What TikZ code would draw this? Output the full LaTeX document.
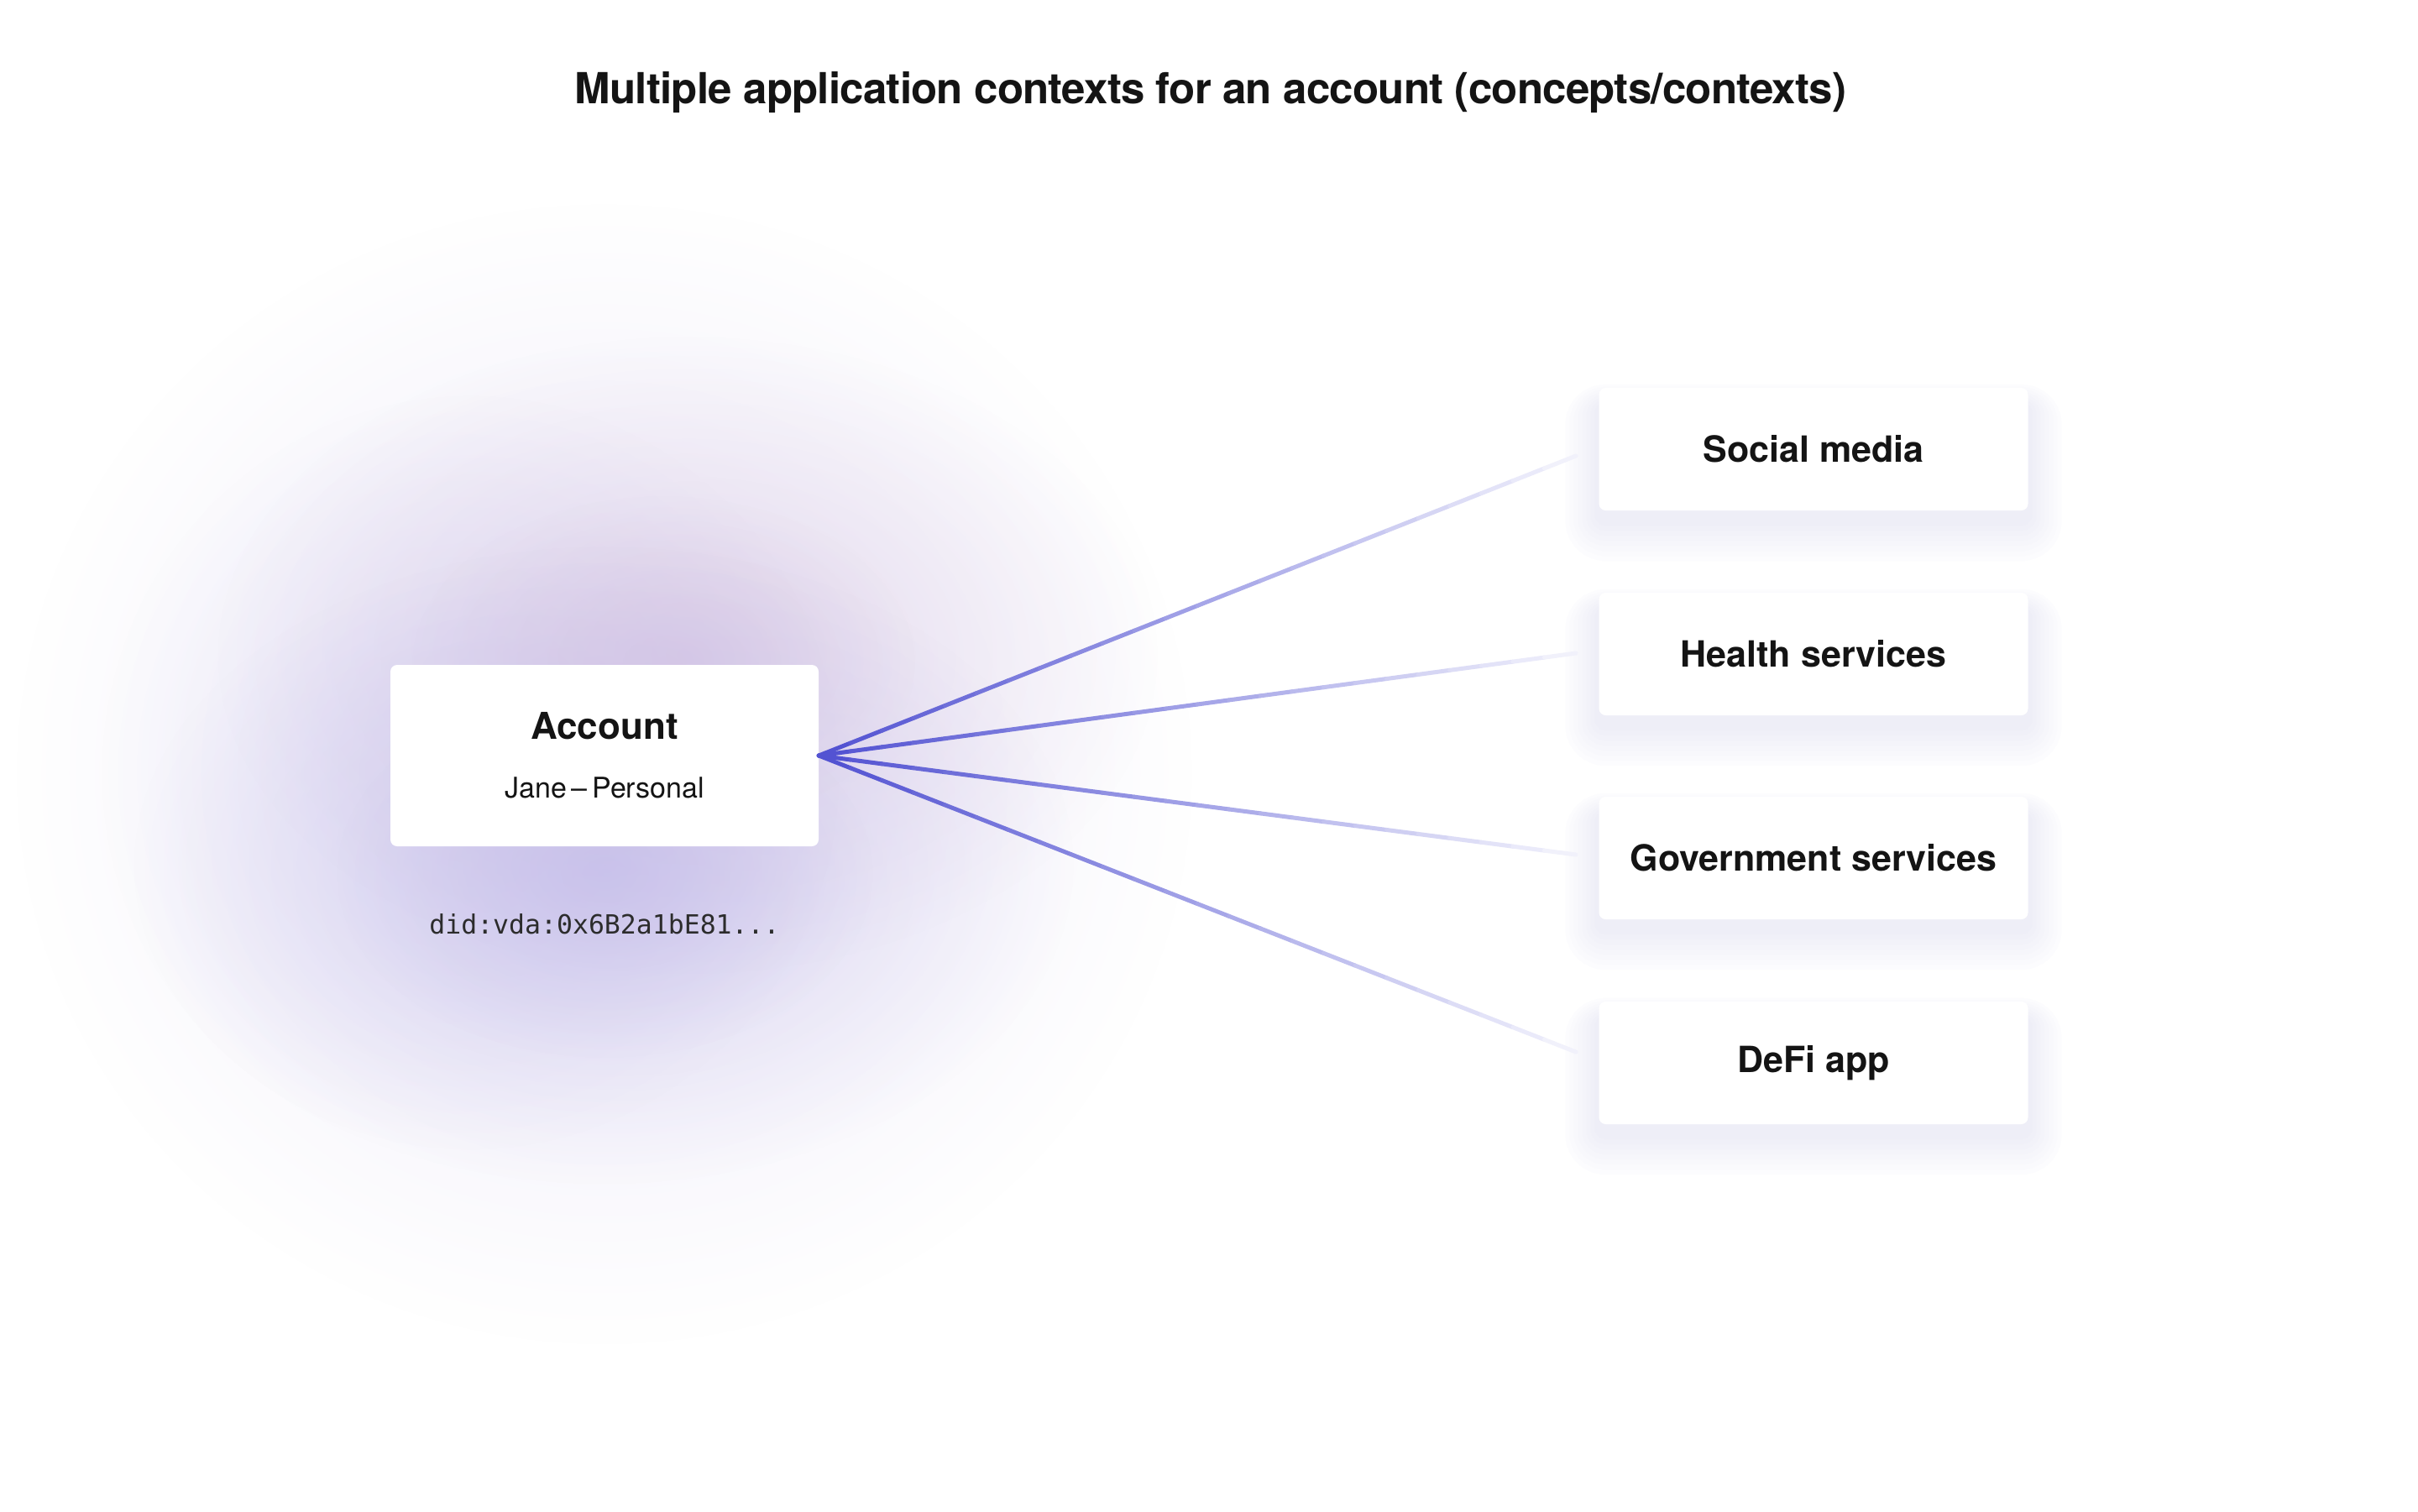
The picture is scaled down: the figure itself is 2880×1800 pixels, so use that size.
\documentclass[tikz,border=0pt]{standalone}
\usepackage{fontspec}
\setmainfont{TeX Gyre Heros}
\setmonofont{DejaVu Sans Mono}
\newfontfamily\titlefont[LetterSpace=-1.5]{TeX Gyre Heros}
\usetikzlibrary{calc,backgrounds,fadings}

\definecolor{ink}{HTML}{141414}
\definecolor{linkc}{HTML}{5353D2}
\definecolor{glowlav}{HTML}{E2DDF4}
\definecolor{glowpink}{HTML}{D2BFE0}
\definecolor{glowblue}{HTML}{BFB7E8}
\definecolor{glowside}{HTML}{D0CCF0}
\definecolor{shadowc}{HTML}{CFCFF2}

\tikzfading[name=glowfade, inner color=transparent!0, outer color=transparent!100]

\tikzset{
  ctxbox/.style={fill=white, rounded corners=8, minimum width=511, minimum height=146,
    inner sep=0, text=ink, font=\fontsize{43}{50}\selectfont\bfseries},
  accbox/.style={fill=white, rounded corners=8, minimum width=510, minimum height=216, inner sep=0},
  link/.style={line width=5, line cap=round},
}

\begin{document}
\begin{tikzpicture}[x=1pt,y=-1pt]
\useasboundingbox (0,0) rectangle (2880,1800);

\node[text=ink, font=\titlefont\fontsize{51}{60}\selectfont\bfseries] (title) at (1442,110)
  {Multiple application contexts for an account (concepts/contexts)};

% account
\node[accbox] (acc) at (720,900) {};
\node[text=ink, font=\fontsize{44}{50}\selectfont\bfseries] (accname) at (720,865) {Account};
\node[text=ink, font=\fontsize{34}{40}\selectfont] (accsub) at (720,938) {Jane\,–\,Personal};
\node[text=ink!90, font=\ttfamily\fontsize{31.5}{38}\selectfont] (did) at (720,1101) {did:vda:0x6B2a1bE81...};

% contexts
\node[ctxbox] (social) at (2160,535) {Social media};
\node[ctxbox] (health) at (2160,779) {Health services};
\node[ctxbox] (gov) at (2160,1022) {Government services};
\node[ctxbox] (defi) at (2160,1266) {DeFi app};

\coordinate (social-end) at (1877,543);
\coordinate (health-end) at (1877,778);
\coordinate (gov-end) at (1877,1018);
\coordinate (defi-end) at (1877,1253);

% glow and shadows
\begin{scope}[on background layer]
\fill[white] (0,0) rectangle (2880,1800);
\foreach \cx/\cy/\rx/\ry/\gc/\op in {720/920/700/680/glowlav/0.65, 560/920/440/450/glowside/0.45,
    820/780/560/380/glowpink/0.5, 790/790/300/200/glowpink/0.4,
    720/1030/560/380/glowblue/0.5, 720/1040/320/220/glowblue/0.4}
  \fill[\gc, fill opacity=\op, path fading=glowfade] (\cx,\cy) ellipse [x radius=\rx, y radius=\ry];
\foreach \n in {social,health,gov,defi}
  \foreach \k in {1,...,8}
    \fill[shadowc, opacity=0.045, rounded corners=8+5*\k]
      ($(\n.north west)+(-5*\k,20-3*\k)$) rectangle ($(\n.south east)+(5*\k,12+6*\k)$);
\end{scope}

% links
\foreach \ctx in {social,health,gov,defi}
  \foreach \i in {0,...,23}{
    \pgfmathtruncatemacro\pct{100-4*\i}
    \pgfmathsetmacro\ta{\i/24}
    \pgfmathsetmacro\tb{(\i+1)/24}
    \draw[link, color=linkc!\pct!white] ($(acc.east)!\ta!(\ctx-end)$) -- ($(acc.east)!\tb!(\ctx-end)$);
  }
\end{tikzpicture}
\end{document}
